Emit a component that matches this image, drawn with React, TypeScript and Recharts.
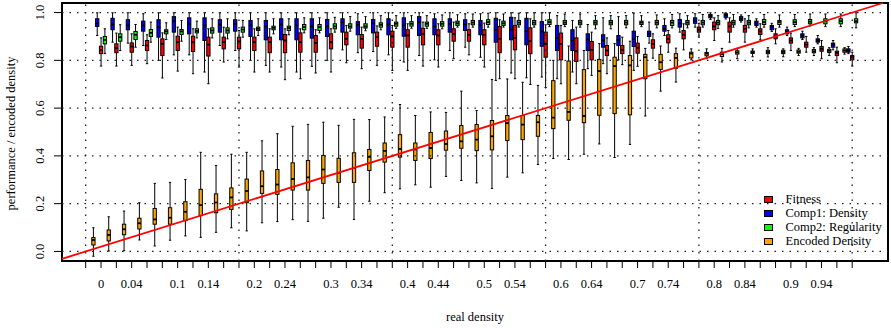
import React from "react";
import {
  Bar,
  ComposedChart,
  Label,
  Legend,
  ReferenceArea,
  ReferenceLine,
  XAxis,
  YAxis,
} from "recharts";

// each box: [lower whisker, q1, median, q3, upper whisker]
type Stats = [number, number, number, number, number];

const densityBins = [
  "0.00", "0.02", "0.04", "0.06", "0.08", "0.10", "0.12", "0.14", "0.16", "0.18",
  "0.20", "0.22", "0.24", "0.26", "0.28", "0.30", "0.32", "0.34", "0.36", "0.38",
  "0.40", "0.42", "0.44", "0.46", "0.48", "0.50", "0.52", "0.54", "0.56", "0.58",
  "0.60", "0.62", "0.64", "0.66", "0.68", "0.70", "0.72", "0.74", "0.76", "0.78",
  "0.80", "0.82", "0.84", "0.86", "0.88", "0.90", "0.92", "0.94", "0.96", "0.98",
];

const encodedDensity: Stats[] = [
  [-0.02, 0.027, 0.048, 0.058, 0.099],
  [0.002, 0.044, 0.069, 0.09, 0.145],
  [0.003, 0.07, 0.093, 0.114, 0.169],
  [0.048, 0.094, 0.118, 0.139, 0.204],
  [0.023, 0.114, 0.134, 0.18, 0.285],
  [0.047, 0.114, 0.141, 0.183, 0.289],
  [0.065, 0.129, 0.166, 0.208, 0.301],
  [0.059, 0.15, 0.194, 0.26, 0.415],
  [0.08, 0.162, 0.205, 0.241, 0.36],
  [0.099, 0.176, 0.226, 0.266, 0.407],
  [0.086, 0.204, 0.253, 0.303, 0.415],
  [0.12, 0.243, 0.273, 0.337, 0.463],
  [0.125, 0.239, 0.28, 0.343, 0.493],
  [0.133, 0.257, 0.303, 0.371, 0.524],
  [0.126, 0.257, 0.31, 0.381, 0.532],
  [0.139, 0.285, 0.343, 0.402, 0.541],
  [0.185, 0.289, 0.329, 0.39, 0.528],
  [0.134, 0.289, 0.349, 0.413, 0.553],
  [0.21, 0.339, 0.396, 0.427, 0.552],
  [0.246, 0.374, 0.421, 0.454, 0.563],
  [0.262, 0.395, 0.429, 0.489, 0.615],
  [0.279, 0.381, 0.427, 0.454, 0.569],
  [0.269, 0.389, 0.433, 0.498, 0.584],
  [0.314, 0.424, 0.45, 0.504, 0.582],
  [0.297, 0.432, 0.461, 0.527, 0.671],
  [0.287, 0.422, 0.468, 0.531, 0.59],
  [0.264, 0.425, 0.482, 0.548, 0.72],
  [0.311, 0.464, 0.537, 0.569, 0.722],
  [0.329, 0.468, 0.531, 0.569, 0.708],
  [0.364, 0.482, 0.541, 0.569, 0.695],
  [0.389, 0.514, 0.56, 0.715, 0.8],
  [0.385, 0.549, 0.584, 0.797, 0.86],
  [0.407, 0.539, 0.567, 0.761, 0.841],
  [0.45, 0.57, 0.755, 0.804, 0.87],
  [0.393, 0.577, 0.776, 0.813, 0.87],
  [0.448, 0.572, 0.779, 0.82, 0.88],
  [0.567, 0.723, 0.813, 0.825, 0.85],
  [0.671, 0.762, 0.792, 0.825, 0.86],
  [0.709, 0.767, 0.81, 0.828, 0.851],
  [0.802, 0.81, 0.828, 0.834, 0.848],
  [0.807, 0.819, 0.828, 0.833, 0.848],
  [0.793, 0.816, 0.826, 0.834, 0.85],
  [0.807, 0.826, 0.833, 0.84, 0.85],
  [0.815, 0.829, 0.834, 0.839, 0.848],
  [0.814, 0.828, 0.835, 0.842, 0.853],
  [0.815, 0.828, 0.835, 0.842, 0.848],
  [0.82, 0.83, 0.836, 0.843, 0.85],
  [0.82, 0.832, 0.838, 0.845, 0.853],
  [0.82, 0.833, 0.84, 0.846, 0.853],
  [0.826, 0.834, 0.841, 0.848, 0.853],
];

const comp1Density: Stats[] = [
  [0.904, 0.942, 0.955, 0.974, 0.999],
  [0.876, 0.928, 0.95, 0.976, 0.999],
  [0.872, 0.928, 0.946, 0.97, 0.999],
  [0.862, 0.922, 0.946, 0.964, 0.995],
  [0.8, 0.897, 0.939, 0.97, 0.999],
  [0.823, 0.918, 0.964, 0.983, 0.999],
  [0.823, 0.911, 0.953, 0.978, 0.999],
  [0.751, 0.883, 0.946, 0.978, 0.999],
  [0.862, 0.918, 0.949, 0.97, 0.999],
  [0.841, 0.922, 0.953, 0.97, 0.999],
  [0.8, 0.9, 0.946, 0.967, 0.999],
  [0.779, 0.886, 0.942, 0.967, 0.999],
  [0.772, 0.886, 0.95, 0.974, 0.999],
  [0.751, 0.886, 0.946, 0.974, 0.999],
  [0.775, 0.893, 0.942, 0.974, 0.999],
  [0.8, 0.9, 0.942, 0.971, 0.999],
  [0.844, 0.918, 0.96, 0.974, 0.999],
  [0.832, 0.907, 0.949, 0.962, 0.995],
  [0.837, 0.915, 0.955, 0.971, 0.999],
  [0.823, 0.907, 0.95, 0.974, 0.999],
  [0.793, 0.901, 0.946, 0.978, 0.999],
  [0.82, 0.904, 0.96, 0.983, 0.999],
  [0.802, 0.907, 0.942, 0.974, 0.995],
  [0.841, 0.918, 0.953, 0.974, 0.999],
  [0.855, 0.925, 0.95, 0.97, 0.995],
  [0.813, 0.907, 0.946, 0.967, 0.995],
  [0.716, 0.876, 0.928, 0.976, 0.999],
  [0.747, 0.886, 0.929, 0.98, 0.999],
  [0.727, 0.865, 0.922, 0.976, 0.999],
  [0.73, 0.859, 0.921, 0.962, 0.999],
  [0.723, 0.841, 0.894, 0.946, 0.987],
  [0.751, 0.841, 0.883, 0.928, 0.967],
  [0.765, 0.841, 0.887, 0.911, 0.95],
  [0.786, 0.855, 0.883, 0.907, 0.978],
  [0.802, 0.862, 0.886, 0.904, 0.983],
  [0.758, 0.858, 0.89, 0.922, 0.998],
  [0.872, 0.9, 0.911, 0.922, 0.96],
  [0.904, 0.922, 0.932, 0.946, 0.974],
  [0.918, 0.939, 0.955, 0.971, 0.995],
  [0.939, 0.955, 0.964, 0.978, 0.995],
  [0.971, 0.978, 0.985, 0.992, 0.999],
  [0.973, 0.98, 0.99, 0.995, 0.999],
  [0.96, 0.967, 0.975, 0.983, 0.99],
  [0.939, 0.946, 0.955, 0.964, 0.974],
  [0.921, 0.928, 0.939, 0.946, 0.955],
  [0.904, 0.911, 0.92, 0.928, 0.939],
  [0.887, 0.894, 0.903, 0.911, 0.922],
  [0.869, 0.876, 0.883, 0.89, 0.904],
  [0.844, 0.855, 0.866, 0.872, 0.883],
  [0.828, 0.834, 0.841, 0.848, 0.858],
];

const fitness: Stats[] = [
  [0.776, 0.828, 0.844, 0.859, 0.894],
  [0.776, 0.832, 0.851, 0.869, 0.914],
  [0.779, 0.834, 0.858, 0.873, 0.911],
  [0.786, 0.841, 0.862, 0.883, 0.907],
  [0.726, 0.82, 0.869, 0.89, 0.915],
  [0.755, 0.841, 0.876, 0.901, 0.939],
  [0.744, 0.837, 0.876, 0.901, 0.932],
  [0.702, 0.818, 0.866, 0.897, 0.932],
  [0.793, 0.848, 0.876, 0.897, 0.939],
  [0.772, 0.848, 0.879, 0.897, 0.925],
  [0.751, 0.841, 0.876, 0.897, 0.932],
  [0.751, 0.832, 0.876, 0.897, 0.932],
  [0.719, 0.832, 0.883, 0.908, 0.932],
  [0.723, 0.834, 0.876, 0.915, 0.932],
  [0.747, 0.834, 0.873, 0.904, 0.928],
  [0.751, 0.848, 0.876, 0.911, 0.932],
  [0.79, 0.865, 0.89, 0.918, 0.946],
  [0.765, 0.851, 0.89, 0.908, 0.939],
  [0.779, 0.859, 0.897, 0.918, 0.944],
  [0.758, 0.855, 0.9, 0.922, 0.946],
  [0.758, 0.855, 0.904, 0.928, 0.953],
  [0.776, 0.865, 0.911, 0.934, 0.96],
  [0.772, 0.865, 0.904, 0.928, 0.953],
  [0.807, 0.88, 0.911, 0.932, 0.96],
  [0.823, 0.88, 0.907, 0.928, 0.953],
  [0.772, 0.865, 0.907, 0.928, 0.956],
  [0.723, 0.832, 0.89, 0.942, 0.97],
  [0.723, 0.844, 0.894, 0.946, 0.978],
  [0.699, 0.828, 0.88, 0.936, 0.974],
  [0.686, 0.813, 0.869, 0.918, 0.949],
  [0.702, 0.802, 0.869, 0.914, 0.946],
  [0.702, 0.795, 0.838, 0.894, 0.939],
  [0.737, 0.802, 0.844, 0.879, 0.918],
  [0.744, 0.82, 0.841, 0.862, 0.894],
  [0.782, 0.828, 0.844, 0.862, 0.897],
  [0.775, 0.83, 0.853, 0.872, 0.9],
  [0.809, 0.851, 0.869, 0.886, 0.911],
  [0.834, 0.873, 0.89, 0.907, 0.925],
  [0.844, 0.89, 0.907, 0.925, 0.953],
  [0.897, 0.918, 0.928, 0.939, 0.955],
  [0.883, 0.928, 0.942, 0.96, 0.978],
  [0.876, 0.918, 0.942, 0.96, 0.978],
  [0.876, 0.918, 0.932, 0.946, 0.974],
  [0.886, 0.908, 0.921, 0.932, 0.953],
  [0.869, 0.89, 0.9, 0.911, 0.932],
  [0.841, 0.872, 0.883, 0.894, 0.914],
  [0.834, 0.855, 0.866, 0.876, 0.9],
  [0.807, 0.838, 0.848, 0.858, 0.883],
  [0.79, 0.82, 0.831, 0.838, 0.855],
  [0.776, 0.802, 0.813, 0.82, 0.834],
];

const comp2Regularity: Stats[] = [
  [0.828, 0.869, 0.886, 0.9, 0.932],
  [0.841, 0.88, 0.897, 0.911, 0.949],
  [0.855, 0.887, 0.907, 0.921, 0.95],
  [0.876, 0.9, 0.915, 0.929, 0.96],
  [0.887, 0.911, 0.921, 0.928, 0.957],
  [0.88, 0.908, 0.921, 0.929, 0.967],
  [0.894, 0.915, 0.923, 0.932, 0.964],
  [0.894, 0.914, 0.925, 0.936, 0.974],
  [0.89, 0.914, 0.925, 0.936, 0.974],
  [0.897, 0.918, 0.929, 0.939, 0.967],
  [0.904, 0.925, 0.932, 0.939, 0.974],
  [0.911, 0.928, 0.936, 0.943, 0.974],
  [0.907, 0.925, 0.935, 0.943, 0.974],
  [0.915, 0.928, 0.939, 0.95, 0.978],
  [0.915, 0.925, 0.939, 0.95, 0.978],
  [0.918, 0.932, 0.942, 0.953, 0.98],
  [0.922, 0.935, 0.942, 0.953, 0.983],
  [0.924, 0.935, 0.942, 0.953, 0.983],
  [0.928, 0.939, 0.949, 0.957, 0.987],
  [0.934, 0.943, 0.953, 0.96, 0.987],
  [0.934, 0.943, 0.953, 0.962, 0.987],
  [0.934, 0.943, 0.953, 0.96, 0.987],
  [0.932, 0.943, 0.953, 0.962, 0.99],
  [0.939, 0.946, 0.955, 0.964, 0.991],
  [0.939, 0.949, 0.958, 0.967, 0.994],
  [0.939, 0.95, 0.96, 0.97, 0.997],
  [0.939, 0.946, 0.955, 0.964, 0.994],
  [0.939, 0.949, 0.958, 0.967, 0.997],
  [0.939, 0.949, 0.958, 0.967, 0.999],
  [0.941, 0.95, 0.96, 0.97, 0.999],
  [0.941, 0.95, 0.958, 0.967, 0.994],
  [0.939, 0.949, 0.958, 0.967, 0.994],
  [0.932, 0.949, 0.958, 0.967, 0.987],
  [0.932, 0.949, 0.958, 0.967, 0.987],
  [0.936, 0.949, 0.958, 0.967, 0.987],
  [0.941, 0.95, 0.958, 0.964, 0.987],
  [0.936, 0.949, 0.958, 0.967, 0.99],
  [0.936, 0.946, 0.958, 0.967, 0.992],
  [0.936, 0.949, 0.958, 0.967, 0.987],
  [0.939, 0.949, 0.958, 0.967, 0.992],
  [0.934, 0.949, 0.958, 0.967, 0.987],
  [0.939, 0.949, 0.958, 0.967, 0.992],
  [0.936, 0.949, 0.958, 0.967, 0.987],
  [0.939, 0.95, 0.96, 0.971, 0.992],
  [0.939, 0.95, 0.96, 0.967, 0.99],
  [0.941, 0.95, 0.96, 0.97, 0.992],
  [0.944, 0.953, 0.962, 0.971, 0.994],
  [0.941, 0.953, 0.964, 0.974, 0.994],
  [0.941, 0.953, 0.964, 0.974, 0.994],
  [0.936, 0.957, 0.964, 0.974, 0.999],
];

// real-density axis: one tick per bin, only some labelled (as in the original)
const xTicks = [
  0, 0.02, 0.04, 0.06, 0.08, 0.1, 0.12, 0.14, 0.16, 0.18, 0.2, 0.22, 0.24, 0.26,
  0.28, 0.3, 0.32, 0.34, 0.36, 0.38, 0.4, 0.42, 0.44, 0.46, 0.48, 0.5, 0.52, 0.54,
  0.56, 0.58, 0.6, 0.62, 0.64, 0.66, 0.68, 0.7, 0.72, 0.74, 0.76, 0.78, 0.8, 0.82,
  0.84, 0.86, 0.88, 0.9, 0.92, 0.94, 0.96, 0.98, 1,
];
const xLabelTicks = [
  0.02, 0.06, 0.12, 0.16, 0.22, 0.26, 0.32, 0.36, 0.42, 0.46,
  0.52, 0.56, 0.62, 0.66, 0.72, 0.76, 0.82, 0.86, 0.92, 0.96,
];
const xLabelTexts = [
  "0", "0.04", "0.1", "0.14", "0.2", "0.24", "0.3", "0.34", "0.4", "0.44",
  "0.5", "0.54", "0.6", "0.64", "0.7", "0.74", "0.8", "0.84", "0.9", "0.94",
];
const yTicks = [0, 0.2, 0.4, 0.6, 0.8, 1];
const yTickLabels = ["0.0", "0.2", "0.4", "0.6", "0.8", "1.0"];
const gridX = [0, 0.2, 0.4, 0.6, 0.8, 1];
const gridY = [0, 0.2, 0.4, 0.6, 0.8, 1];

const xDomain: [number, number] = [-0.0309, 1.0467];
const yDomain: [number, number] = [-0.04, 1.04];

const series = [
  { key: "encoded", name: "Encoded Density", color: "#FFA500" },
  { key: "comp1", name: "Comp1: Density", color: "#0000FF" },
  { key: "fitness", name: "Fitness", color: "#FF0000" },
  { key: "comp2", name: "Comp2: Regularity", color: "#00FF00" },
];
const legendOrder = ["fitness", "comp1", "comp2", "encoded"];

const rows = densityBins.map((bin, i) => ({
  bin,
  density: Number(bin),
  encoded: encodedDensity[i],
  comp1: comp1Density[i],
  fitness: fitness[i],
  comp2: comp2Regularity[i],
}));

const FONT = '"Liberation Serif", "Times New Roman", serif';

const boxShape = (key: string, color: string) => (props: any) => {
  const { x, y, width, height, payload } = props;
  const [lo, q1, med, q3, hi] = payload[key] as Stats;
  const top = Math.min(y, y + height);
  const bottom = Math.max(y, y + height);
  const toY = (v: number) => top + ((bottom - top) * (hi - v)) / (hi - lo);
  const cx = x + width / 2;
  const half = width * 0.35;
  return (
    <g>
      <line x1={cx} x2={cx} y1={toY(hi)} y2={toY(q3)} stroke="#000" />
      <line x1={cx} x2={cx} y1={toY(q1)} y2={toY(lo)} stroke="#000" />
      <line x1={cx - half} x2={cx + half} y1={toY(hi)} y2={toY(hi)} stroke="#000" />
      <line x1={cx - half} x2={cx + half} y1={toY(lo)} y2={toY(lo)} stroke="#000" />
      <rect
        x={x}
        y={toY(q3)}
        width={width}
        height={Math.max(toY(q1) - toY(q3), 0.5)}
        fill={color}
        stroke="#000"
        strokeWidth={1}
      />
      <line
        x1={x}
        x2={x + width}
        y1={toY(med)}
        y2={toY(med)}
        stroke="#000"
        strokeWidth={1.8}
      />
    </g>
  );
};

const xLabel = (v: number) => {
  const i = xLabelTicks.findIndex((t) => Math.abs(t - v) < 1e-6);
  return i >= 0 ? xLabelTexts[i] : "";
};

const YTick = (p: any) => {
  const i = yTicks.findIndex((t) => Math.abs(t - p.payload.value) < 1e-6);
  return (
    <text
      x={p.x}
      y={p.y}
      transform={`rotate(-90, ${p.x}, ${p.y})`}
      textAnchor="middle"
      dy="0.33em"
      fontSize={12.5}
      fontFamily={FONT}
      fill="#000"
    >
      {i >= 0 ? yTickLabels[i] : ""}
    </text>
  );
};

const LegendBox = () => (
  <div style={{ fontFamily: FONT, fontSize: 12.5, color: "#000" }}>
    {legendOrder.map((k) => {
      const s = series.find((d) => d.key === k)!;
      return (
        <div key={k} style={{ display: "flex", alignItems: "center", height: 14 }}>
          <span
            style={{
              display: "inline-block",
              boxSizing: "border-box",
              width: 9,
              height: 7,
              background: s.color,
              border: "1px solid #000",
              marginRight: 12.5,
            }}
          />
          <span style={{ lineHeight: "14px", whiteSpace: "nowrap" }}>{s.name}</span>
        </div>
      );
    })}
  </div>
);

export default function App() {
  return (
    <div
      style={{
        position: "absolute",
        left: 0,
        top: 0,
        width: 891,
        height: 328,
        background: "#fff",
        fontFamily: FONT,
      }}
    >
      <ComposedChart
        width={891}
        height={328}
        data={rows}
        margin={{ top: 3, right: 3, bottom: 0, left: 0 }}
        barGap={0.533}
      >
        <XAxis
          xAxisId="num"
          dataKey="density"
          type="number"
          domain={xDomain}
          allowDataOverflow
          ticks={xTicks}
          interval={0}
          tickFormatter={xLabel}
          tickSize={7}
          tickMargin={11.4}
          axisLine={false}
          tickLine={{ stroke: "#000" }}
          tick={{ fill: "#000", fontSize: 12.5, fontFamily: FONT }}
          height={67}
        >
          <Label
            content={(p: any) => {
              const vb = p.viewBox;
              return (
                <text
                  x={vb.x + vb.width / 2}
                  y={vb.y + 59.5}
                  textAnchor="middle"
                  fontSize={12.5}
                  fontFamily={FONT}
                  fill="#000"
                >
                  real density
                </text>
              );
            }}
          />
        </XAxis>
        <XAxis
          xAxisId="cat"
          dataKey="bin"
          type="category"
          hide
          height={0}
          padding={{ left: 29.75, right: 29.75 }}
        />
        <YAxis
          type="number"
          domain={yDomain}
          allowDataOverflow
          ticks={yTicks}
          interval={0}
          width={62}
          tickSize={8}
          tickMargin={14}
          axisLine={false}
          tickLine={{ stroke: "#000" }}
          tick={<YTick />}
        >
          <Label
            content={(p: any) => {
              const vb = p.viewBox;
              const cx = vb.x + 15;
              const cy = vb.y + vb.height / 2 + 1.5;
              return (
                <text
                  x={cx}
                  y={cy}
                  transform={`rotate(-90, ${cx}, ${cy})`}
                  textAnchor="middle"
                  fontSize={12.5}
                  fontFamily={FONT}
                  fill="#000"
                >
                  performance / encoded density
                </text>
              );
            }}
          />
        </YAxis>

        {gridY.map((v) => (
          <ReferenceLine
            key={`gy${v}`}
            xAxisId="num"
            y={v}
            stroke="#222"
            strokeWidth={1.3}
            strokeDasharray="1.5 6"
            ifOverflow="visible"
          />
        ))}
        {gridX.map((v) => (
          <ReferenceLine
            key={`gx${v}`}
            xAxisId="num"
            x={v}
            stroke="#222"
            strokeWidth={1.3}
            strokeDasharray="1.5 6"
            ifOverflow="visible"
          />
        ))}

        {series.map((s) => (
          <Bar
            key={s.key}
            xAxisId="cat"
            name={s.name}
            dataKey={(d: any) => [d[s.key][0], d[s.key][4]]}
            fill={s.color}
            barSize={3.3}
            shape={boxShape(s.key, s.color)}
            isAnimationActive={false}
          />
        ))}

        <ReferenceLine
          xAxisId="num"
          segment={[
            { x: xDomain[0], y: xDomain[0] },
            { x: yDomain[1], y: yDomain[1] },
          ]}
          stroke="#FF0000"
          strokeWidth={1.8}
          ifOverflow="visible"
        />
        <ReferenceArea
          xAxisId="num"
          x1={xDomain[0]}
          x2={xDomain[1]}
          y1={yDomain[0]}
          y2={yDomain[1]}
          fill="none"
          fillOpacity={0}
          stroke="#000"
          strokeWidth={2}
          ifOverflow="visible"
        />
        <Legend
          layout="horizontal"
          verticalAlign="middle"
          align="center"
          wrapperStyle={{ left: 764, top: 192, width: 125, height: 56 }}
          content={() => <LegendBox />}
        />
      </ComposedChart>
    </div>
  );
}
